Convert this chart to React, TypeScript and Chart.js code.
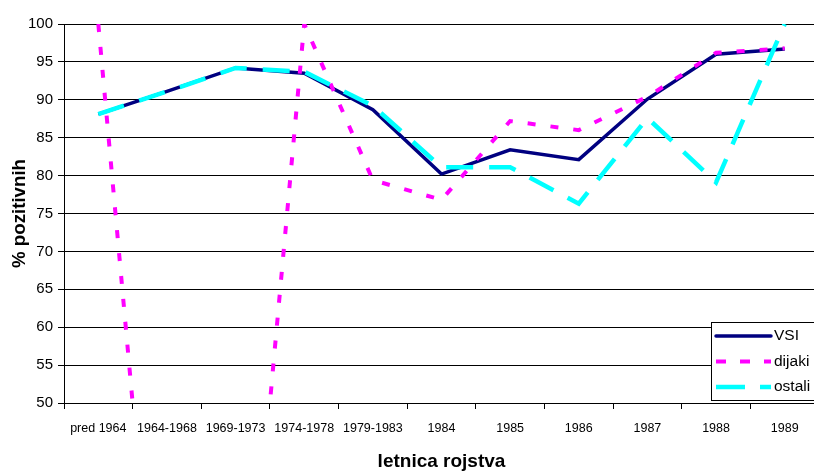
import React, { useEffect, useRef } from "react";
import { Chart, registerables } from "chart.js";

Chart.register(...registerables);

const categories = [
  "pred 1964",
  "1964-1968",
  "1969-1973",
  "1974-1978",
  "1979-1983",
  "1984",
  "1985",
  "1986",
  "1987",
  "1988",
  "1989",
];
const vsi = [88.1, 91.1, 94.2, 93.5, 88.7, 80.2, 83.4, 82.1, 90.1, 96.0, 96.7];
const dijaki = [100, 0, 0, 100, 79.4, 76.8, 87.2, 86.0, 90.4, 96.2, 96.8];
const ostali = [88.1, 91.1, 94.2, 93.7, 89.2, 81.1, 81.1, 76.3, 87.6, 79.1, 100];
const seriesLabels = ["VSI", "dijaki", "ostali"];

const FONT = '"Liberation Sans", Arial, sans-serif';

const boxLegend = {
  id: "boxLegend",
  afterDraw(chart: any) {
    const { ctx, chartArea } = chart;
    const left = Math.round(chartArea.right - 108);
    const top = Math.round(chartArea.bottom - 81);
    const bottom = Math.round(chartArea.bottom - 3);
    ctx.save();
    ctx.fillStyle = "#fff";
    ctx.fillRect(left, top, chart.width - left + 10, bottom - top);
    ctx.strokeStyle = "#000";
    ctx.lineWidth = 1;
    ctx.strokeRect(left + 0.5, top + 0.5, chart.width, bottom - top);
    chart.data.datasets.forEach((ds: any, i: number) => {
      const y = top + 14 + i * 25.5;
      ctx.setLineDash(ds.legendDash || []);
      ctx.strokeStyle = ds.borderColor;
      ctx.lineWidth = ds.borderWidth;
      ctx.lineCap = ds.legendCap || "butt";
      ctx.beginPath();
      ctx.moveTo(left + 5, y);
      ctx.lineTo(left + 60, y);
      ctx.stroke();
      ctx.setLineDash([]);
      ctx.fillStyle = "#000";
      ctx.font = `15.5px ${FONT}`;
      ctx.textBaseline = "middle";
      ctx.textAlign = "left";
      ctx.fillText(ds.label, left + 63, y);
    });
    ctx.restore();
  },
};

export default function App() {
  const ref = useRef<HTMLCanvasElement | null>(null);
  useEffect(() => {
    if (!ref.current) return;
    const chart = new Chart(ref.current, {
      type: "line",
      data: {
        labels: categories,
        datasets: [
          {
            label: seriesLabels[0],
            data: vsi,
            borderColor: "#000080",
            borderWidth: 3.5,
            pointRadius: 0,
            tension: 0,
            fill: false,
            order: 3,
            legendDash: [],
            legendCap: "round",
          } as any,
          {
            label: seriesLabels[1],
            data: dijaki,
            borderColor: "#FF00FF",
            borderWidth: 4,
            borderDash: [8, 15],
            pointRadius: 0,
            tension: 0,
            fill: false,
            order: 2,
            legendDash: [10, 14],
          } as any,
          {
            label: seriesLabels[2],
            data: ostali,
            borderColor: "#00FFFF",
            borderWidth: 4.5,
            borderDash: [27, 16],
            pointRadius: 0,
            tension: 0,
            fill: false,
            order: 1,
            legendDash: [29, 15],
          } as any,
        ],
      },
      options: {
        animation: false,
        responsive: false,
        devicePixelRatio: 1,
        layout: { padding: { left: 0, top: 24, right: 3, bottom: 0 } },
        plugins: {
          legend: { display: false },
          tooltip: { enabled: false },
        },
        scales: {
          x: {
            type: "category",
            offset: true,
            grid: {
              offset: true,
              drawOnChartArea: false,
              drawTicks: true,
              tickLength: 6,
              color: "#000",
            },
            border: { display: true, color: "#000", width: 1 },
            ticks: {
              color: "#000",
              font: { family: FONT, size: 12.5 },
              maxRotation: 0,
              autoSkip: false,
              padding: 12,
            },
            title: {
              display: true,
              text: "letnica rojstva",
              color: "#000",
              font: { family: FONT, size: 19, weight: "bold", lineHeight: 1 },
              padding: { top: 0, bottom: 0 },
            },
            afterFit(scale: any) {
              scale.height = 68;
            },
          },
          y: {
            min: 50,
            max: 100,
            ticks: {
              stepSize: 5,
              color: "#000",
              font: { family: FONT, size: 15 },
              padding: 5,
            },
            grid: {
              color: "#000",
              lineWidth: 1,
              tickLength: 6,
              drawTicks: true,
            },
            border: { display: true, color: "#000", width: 1 },
            title: {
              display: true,
              text: "% pozitivnih",
              color: "#000",
              font: { family: FONT, size: 18.7, weight: "bold", lineHeight: 1 },
              padding: { top: 11, bottom: 0 },
            },
            afterFit(scale: any) {
              scale.width = 64;
            },
          },
        },
      } as any,
      plugins: [boxLegend],
    });
    return () => chart.destroy();
  }, []);
  return (
    <div
      style={{
        position: "fixed",
        left: 0,
        top: 0,
        width: 814,
        height: 471,
        overflow: "hidden",
        background: "#fff",
      }}
    >
      <canvas ref={ref} width={822} height={471} style={{ display: "block" }} />
    </div>
  );
}
